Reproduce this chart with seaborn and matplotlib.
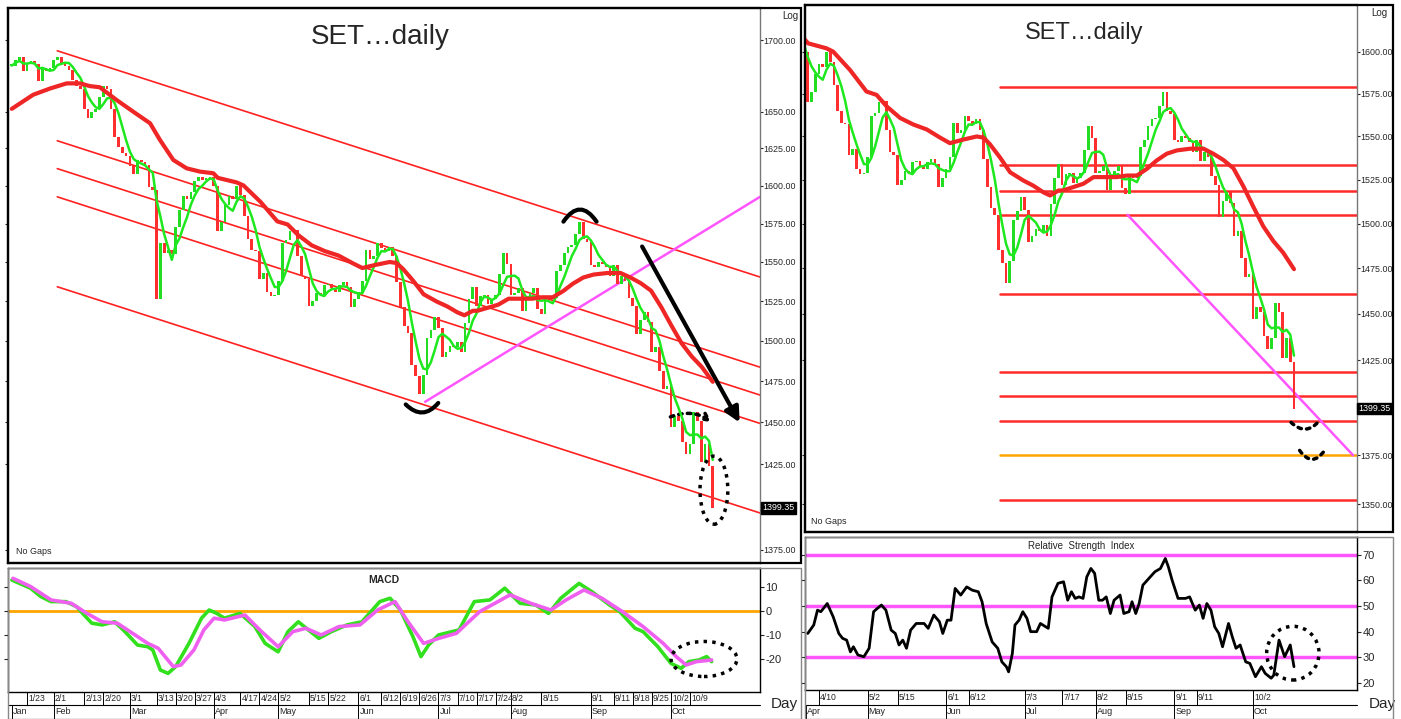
import numpy as np
import pandas as pd
import seaborn as sns
import matplotlib.pyplot as plt
from matplotlib.patches import Ellipse, Rectangle
from matplotlib.ticker import NullLocator

#%% data: SET index daily closes (trading-day index 0 = 17 Jan 2023)
close_jan = [1682, 1686, 1688, 1678, 1683, 1685, 1683, 1671, 1680, 1678, 1680]
close_feb = [1686, 1688, 1684, 1682, 1679, 1672, 1668, 1666, 1652, 1646,
             1650, 1652, 1660, 1668, 1666, 1652, 1633, 1626, 1622, 1620]
close_mar = [1613, 1608, 1617, 1616, 1614, 1599, 1597, 1526, 1562, 1556, 1558,
             1555, 1573, 1584, 1593, 1591, 1596, 1603, 1606, 1604, 1605, 1606]
close_apr = [1600, 1570, 1576, 1587, 1593, 1591, 1600, 1594, 1580, 1565, 1558,
             1557, 1539, 1543, 1531, 1528, 1529]
close_may = [1538, 1562, 1564, 1570, 1571, 1554, 1541, 1539, 1522, 1525, 1530,
             1529, 1535, 1536, 1533, 1531, 1535, 1537, 1534, 1521, 1526]
close_jun = [1531, 1538, 1558, 1552, 1554, 1562, 1559, 1557, 1560, 1554, 1537,
             1521, 1509, 1505, 1485, 1478, 1467, 1479, 1502, 1507, 1515]
close_jul = [1508, 1490, 1493, 1497, 1496, 1499, 1493, 1511, 1526, 1534, 1522,
             1528, 1529, 1523, 1526, 1529, 1542, 1556, 1549]
close_aug = [1529, 1530, 1533, 1519, 1526, 1530, 1533, 1520, 1517, 1528, 1526,
             1527, 1544, 1548, 1556, 1560, 1561, 1568, 1576, 1565, 1563]
close_sep = [1548, 1547, 1550, 1549, 1547, 1541, 1548, 1536, 1541, 1538, 1527,
             1522, 1504, 1513, 1518, 1512, 1493, 1496, 1481, 1470, 1472]
close_oct = [1447, 1454, 1451, 1438, 1431, 1437, 1456, 1451, 1426, 1437, 1424, 1399.35]
last_close = 1399.35

# red moving average
ma_x = [0, 5.6, 10, 14.4, 17.9, 20.5, 23.1, 27.5, 31.9, 36.3, 38.9, 42.4, 45.9, 49.4, 52.9,
        54.1, 59, 60.8, 65.3, 69.7, 72.4, 75.1, 78.7, 82.2, 85.8, 89.4, 92, 95.6, 99.2, 101,
        102.7, 105.4, 108.1, 111.6, 114.3, 117, 118.8, 121, 122.3, 127.7, 130.4, 133.1, 136.6,
        139.3, 142, 144.7, 147.3, 150, 152.7, 156.3, 159.8, 162.4, 165.1, 167.8, 170.5, 173.1,
        175.8, 178.5, 181.1, 184]
ma_v = [1652, 1661.7, 1666, 1669.6, 1669.6, 1667.7, 1666.9, 1658.1, 1650, 1642.1, 1630.7,
        1617.2, 1611.6, 1609.4, 1608.3, 1605.2, 1602.2, 1600.2, 1589.2, 1576.4, 1574.4, 1567.6,
        1560.8, 1557, 1554.1, 1549.3, 1546.1, 1548.2, 1550, 1549.3, 1545.5, 1537.8, 1529.3,
        1524.6, 1521.6, 1517.8, 1516, 1518.8, 1518.9, 1522.7, 1526.5, 1526.5, 1526.5, 1527.4,
        1527.4, 1531.3, 1536.1, 1540, 1541.9, 1542.9, 1542.9, 1540, 1536.4, 1531.6, 1521.1,
        1509.7, 1498.5, 1490.2, 1483.8, 1474.6]

# MACD / signal
macd_x = [0, 4.9, 7.6, 10.3, 14.2, 17, 19, 21, 23.7, 27, 29.7, 33, 35.7, 37, 39, 41, 43, 46.5,
          49.8, 51.8, 53.8, 55.8, 59.9, 63.8, 66.5, 69.9, 72.5, 75.2, 80.6, 83.9, 88, 91.9, 96.6,
          99.3, 102, 105.3, 107.4, 109.4, 112, 117.4, 121.4, 125.5, 129.4, 133.4, 137.5, 140.9,
          144.1, 148.9, 152.3, 156.9, 159.6, 163.6, 165.7, 169.6, 173, 175.7, 177.7, 180.4,
          182.4, 183.7]
macd_v = [12.9, 9.5, 6, 3.9, 3.9, 1.8, -1.7, -5.1, -5.8, -4.5, -8.6, -14.2, -14.9, -16.25,
          -24.6, -26, -23.2, -13.5, -3, 0.4, -1, -3, -1, -6.5, -13.5, -17, -8.6, -4.5, -11.4,
          -8.6, -5.8, -4.5, 3.9, 5.3, 0.4, -10.7, -19, -14.2, -10, -7.9, 3.9, 4.6, 9.5, 3.2,
          2.5, -1, 5.3, 11.5, 8, 2.5, -0.3, -7.2, -8.6, -14.9, -21.8, -23.9, -21.1, -20.4,
          -19, -21.1]
sig_x = [0.3, 4.9, 10.3, 15.6, 19.7, 23.7, 27.7, 31.7, 35.7, 38.4, 42.4, 44.4, 47.8, 50.4,
         53.1, 55.8, 61.2, 65.1, 69.9, 73.8, 77.2, 81.2, 85.9, 91.4, 96, 100.6, 104, 108.1,
         112.1, 116.7, 122.8, 126.8, 130.8, 136.2, 141.5, 145.5, 150.2, 154.9, 160.3, 165.7,
         171, 174.4, 177, 179.7, 183.7]
sig_v = [13.6, 10.2, 4.6, 3.2, -1, -4.5, -5.1, -9.3, -13.5, -15.5, -23.2, -22.5, -16.25, -7.9,
         -3, -3.75, -1.7, -7.9, -14.9, -8.6, -7.2, -10, -6.5, -5.8, 0.4, 3.9, -4.5, -13.5,
         -11.4, -9.3, -0.3, 3.2, 6.7, 3.2, 0.4, 4.6, 8.75, 5.3, -0.3, -6.5, -13.5, -19, -22.5,
         -21.1, -20.4]

# RSI
rsi_x = [54, 55.6, 56.6, 57.5, 59.2, 60.8, 62.3, 63.3, 64.4, 65.4, 66.2, 67.4, 69, 70.4, 71.6,
         72.6, 73.7, 74.9, 76.3, 77.4, 78.4, 79.4, 80.4, 81.5, 83, 85.1, 86.2, 87.7, 89.2, 90.1,
         91.3, 92.3, 93.4, 94.9, 96.5, 98, 99.6, 100.6, 101.7, 103.3, 104.8, 105.9, 107.1,
         107.7, 108.7, 109.4, 110.5, 111.5, 112.6, 113.6, 115.2, 116.2, 118.3, 119.3, 120.9,
         122.4, 123.5, 124.5, 125.5, 126.5, 127.6, 128.6, 129.7, 130.7, 131.8, 132.8, 133.8,
         134.9, 135.9, 137.5, 138.5, 139.9, 140.7, 141.7, 142.6, 143.6, 145.2, 146.8, 148.3,
         149.6, 150.4, 151.4, 153, 155, 156.1, 157.6, 158.7, 159.7, 160.7, 161.8, 162.8, 163.9,
         164.9, 166.5, 167.5, 168.5, 169.6, 171.1, 172.2, 173.7, 175.3, 176.3, 177.9, 178.6,
         180, 181.5, 183, 184]
rsi_v = [39.3, 42.6, 48.4, 47.8, 51, 45.8, 39.3, 37.4, 36.7, 32.1, 34.1, 30.9, 30.2, 33.5,
         47.8, 49.1, 50.4, 48.4, 40.6, 39.3, 34.8, 36.7, 33.5, 40.6, 43.2, 43.2, 41.3, 46.5,
         43.9, 39.3, 44.5, 44.5, 56.9, 54.3, 57.5, 56.2, 55.6, 51.7, 43.2, 36, 33.5, 28.2, 26.3,
         24.3, 31.5, 42.6, 44.5, 47.8, 45.2, 40, 40, 43.2, 41.3, 53.6, 58.9, 59.5, 52.3, 55.6,
         53, 53.6, 53, 61.4, 64.7, 62.8, 52.3, 52.3, 53.6, 47.1, 52.3, 54.3, 47.1, 47.8, 51.7,
         47.1, 51, 58.2, 60.8, 63.4, 64.7, 68.6, 65.4, 60.2, 53, 53, 53.6, 48.4, 50.4, 45.2, 51,
         48.4, 41.9, 39.3, 34.1, 43.2, 38, 33.5, 34.8, 28.2, 27.6, 22.4, 26.3, 23.7, 21.8, 23,
         36.7, 30.2, 34.8, 26.3]
rsi_levels = [30, 50, 70]

# date strip labels (trading-day index)
left_day_pos = [4, 11, 19, 24, 31, 38, 43, 48, 53, 60, 65, 70, 78, 83, 91, 97, 102, 107, 112,
                117, 122, 127, 131, 139, 152, 158, 163, 168, 173, 178]
left_day_lab = ['1/23', '2/1', '2/13', '2/20', '3/1', '3/13', '3/20', '3/27', '4/3', '4/17',
                '4/24', '5/2', '5/15', '5/22', '6/1', '6/12', '6/19', '6/26', '7/3', '7/10',
                '7/17', '7/24', '8/2', '8/15', '9/1', '9/11', '9/18', '9/25', '10/2', '10/9']
right_day_pos = [57, 70, 78, 91, 97, 112, 122, 131, 139, 152, 158, 173]
right_day_lab = ['4/10', '5/2', '5/15', '6/1', '6/12', '7/3', '7/17', '8/2', '8/15', '9/1',
                 '9/11', '10/2']
month_pos = [0, 11, 31, 53, 70, 91, 112, 131, 152, 173]
month_lab = ['Jan', 'Feb', 'Mar', 'Apr', 'May', 'Jun', 'Jul', 'Aug', 'Sep', 'Oct']

# price scale labels
left_levels = [1375, 1425, 1450, 1475, 1500, 1525, 1550, 1575, 1600, 1625, 1650, 1700]
right_levels = [1350, 1375, 1425, 1450, 1475, 1500, 1525, 1550, 1575, 1600]

# drawn trend lines (trading-day index, price)
chan_x = [11.94, 197.2]
chan_start = [1692.4, 1630.2, 1611.4, 1592.6, 1534.1]
chan_end = [1539.7, 1483.0, 1465.9, 1448.7, 1395.7]
left_pink_x = [108.5, 196.4]
left_pink_y = [1462.4, 1592.6]
right_pink_x = [139.5, 199.8]
right_pink_y = [1505, 1375]
hline_start = 105.4
red_levels = [1579.2, 1533.6, 1518.5, 1505, 1460.9, 1418.7, 1406, 1392.8, 1352]
orange_level = 1375

#%% derived series
close = np.array(close_jan + close_feb + close_mar + close_apr + close_may + close_jun
                 + close_jul + close_aug + close_sep + close_oct, dtype=float)
x = np.arange(len(close))
openp = np.r_[close[0], close[:-1]]
up = close >= openp
body_lo = np.minimum(openp, close)
body_h = np.maximum(np.abs(close - openp), 0.8)
ma5 = pd.Series(close).rolling(5, min_periods=1).mean().values

#%% style
sns.set_theme(style='white')
plt.rcParams['font.family'] = ['Liberation Sans', 'DejaVu Sans']
plt.rcParams['axes.edgecolor'] = 'black'
C_UP, C_DN = '#22dd22', '#ff2f2f'
C_MA5, C_MA = '#1ee81e', '#ee2626'
C_PINK = '#ff55ff'
DOTS = (0, (1, 1.5))

W, H = 1401, 719
fig = plt.figure(figsize=(W / 100, H / 100), dpi=100)


def px_axes(x0, y0, x1, y1):
    return fig.add_axes([x0 / W, 1 - y1 / H, (x1 - x0) / W, (y1 - y0) / H])


def px_frame(x0, y0, x1, y1, lw=1.6, color='black'):
    fig.add_artist(Rectangle((x0 / W, 1 - y1 / H), (x1 - x0) / W, (y1 - y0) / H,
                             transform=fig.transFigure, fill=False, lw=lw, ec=color))


ax_lp = px_axes(8, 8, 760, 563)
ax_lm = px_axes(8, 568, 760, 692)
ax_rp = px_axes(805, 5, 1357, 532)
ax_rr = px_axes(805, 537, 1357, 690)
XL = (-1.0, 196.4)
XR = (53.26, 200.85)

# outer frames around the price panels (label columns included)
px_frame(8, 8, 801, 563)
px_frame(805, 5, 1393, 532)
px_frame(8, 568, 801, 719, lw=1.0, color='#888888')
px_frame(805, 537, 1393, 719, lw=1.0, color='#888888')


def price_panel(ax, xlim, ylim, levels):
    ax.set_yscale('log')
    ax.bar(x[up], body_h[up], bottom=body_lo[up], width=0.7, color=C_UP, linewidth=0, zorder=3)
    ax.bar(x[~up], body_h[~up], bottom=body_lo[~up], width=0.7, color=C_DN, linewidth=0, zorder=3)
    sns.lineplot(x=x, y=ma5, ax=ax, color=C_MA5, linewidth=1.8, zorder=4)
    sns.lineplot(x=ma_x, y=ma_v, ax=ax, color=C_MA, linewidth=3, zorder=4, sort=False)
    ax.set_xlim(xlim)
    ax.set_ylim(ylim)
    ax.set_yticks(levels, labels=[f'{v:.2f}' for v in levels], fontsize=6.4)
    ax.yaxis.set_minor_locator(NullLocator())
    ax.yaxis.tick_right()
    ax.tick_params(axis='y', which='major', left=True, right=True, length=2, pad=0.5, width=0.8)
    ax.set_xticks([])
    ax.set_xlabel('')
    ax.set_ylabel('')
    for s in ax.spines.values():
        s.set_linewidth(1.6)
    ax.spines['right'].set_linewidth(1.0)
    ax.spines['right'].set_color('#777777')
    ax.text(1.003, last_close, '1399.35', transform=ax.get_yaxis_transform(), ha='left',
            va='center', color='white', fontsize=6.4,
            bbox=dict(facecolor='black', edgecolor='black', pad=1.0), zorder=6)
    ax.text(1.04, 0.985, 'Log', transform=ax.transAxes, ha='center', va='center', fontsize=7)
    ax.text(0.01, 0.012, 'No Gaps', transform=ax.transAxes, ha='left', va='bottom',
            fontsize=6.5)


def date_strip(ax, day_pos, day_lab, row1_px, row2_px, day_x):
    h = ax.get_position().height * H
    r1, r2 = row1_px / h, row2_px / h
    tr = ax.get_xaxis_transform()
    x0 = ax.get_xlim()[0]
    ax.plot([0, 1], [-r1, -r1], transform=ax.transAxes, color='black', lw=0.8, clip_on=False)
    for p, lab in zip(day_pos, day_lab):
        ax.plot([p, p], [0, -r1], transform=tr, color='black', lw=0.7, clip_on=False)
        ax.text(p + 0.3, -r1 / 2, lab, transform=tr, ha='left', va='center', fontsize=6.2)
    for p, lab in zip(month_pos, month_lab):
        if p < x0 - 1.5:
            continue
        p = max(p, x0 + 0.3)
        ax.plot([p, p], [-r1, -r2], transform=tr, color='black', lw=0.7, clip_on=False)
        ax.text(p + 0.3, -(r1 + r2) / 2, lab, transform=tr, ha='left', va='center',
                fontsize=6.5)
    ax.text(day_x, -r1 * 0.95, 'Day', transform=ax.transAxes, ha='left', va='center',
            fontsize=11)


def lower_style(ax, xlim, ylim, ticks):
    ax.set_xlim(xlim)
    ax.set_ylim(ylim)
    ax.set_yticks(ticks, labels=[str(t) for t in ticks], fontsize=8)
    ax.yaxis.tick_right()
    ax.tick_params(axis='y', left=True, right=True, length=3, pad=1, width=0.8)
    ax.set_xticks([])
    ax.set_xlabel('')
    ax.set_ylabel('')
    for s in ax.spines.values():
        s.set_linewidth(1.0)


#%% left price panel
price_panel(ax_lp, XL, (1367.5, 1722.8), left_levels)
for y0, y1 in zip(chan_start, chan_end):
    ax_lp.plot(chan_x, [y0, y1], color='#ff2020', lw=1.2, zorder=2)
ax_lp.plot(left_pink_x, left_pink_y, color=C_PINK, lw=1.8, zorder=2)
ax_lp.text(0.495, 0.948, 'SET\u2026daily', transform=ax_lp.transAxes, ha='center',
           va='center', fontsize=20)
# annotations
ax_lp.annotate('', xy=(112.4, 1463), xytext=(102.9, 1462),
               arrowprops=dict(arrowstyle='-', lw=3, color='black',
                               connectionstyle='arc3,rad=0.6'))
ax_lp.annotate('', xy=(153.9, 1574.7), xytext=(144.4, 1574.7),
               arrowprops=dict(arrowstyle='-', lw=3, color='black',
                               connectionstyle='arc3,rad=-0.8'))
ax_lp.annotate('', xy=(191.4, 1448.4), xytext=(165.1, 1561.6),
               arrowprops=dict(arrowstyle='-|>', lw=3, color='black', mutation_scale=22))
ax_lp.annotate('', xy=(184.3, 1449), xytext=(172.2, 1452.6),
               arrowprops=dict(arrowstyle='->', lw=2.5, color='black', linestyle=DOTS,
                               connectionstyle='arc3,rad=-0.3'))
ax_lp.add_patch(Ellipse((184.3, 1409.7), 7.3, 40, fill=False, ec='black', lw=2.5,
                        ls=DOTS, zorder=5))

#%% left MACD panel
lower_style(ax_lm, XL, (-33.75, 17.9), [10, 0, -10, -20])
ax_lm.axhline(0, color='#ffa500', lw=2, zorder=2)
sns.lineplot(x=macd_x, y=macd_v, ax=ax_lm, color='#33e01e', linewidth=2.6, sort=False, zorder=3)
sns.lineplot(x=sig_x, y=sig_v, ax=ax_lm, color='#f060f0', linewidth=2.6, sort=False, zorder=4)
ax_lm.set_xlabel('')
ax_lm.text(0.5, 0.9, 'MACD', transform=ax_lm.transAxes, ha='center', va='center',
           fontsize=7.5, fontweight='bold')
ax_lm.add_patch(Ellipse((181.7, -20), 17.3, 14.6, fill=False, ec='black', lw=2.5,
                        ls=DOTS, zorder=5))
date_strip(ax_lm, left_day_pos, left_day_lab, 13, 27, 1.014)

#%% right price panel
price_panel(ax_rp, XR, (1335.9, 1628.5), right_levels)
for lv in red_levels:
    ax_rp.plot([hline_start, XR[1]], [lv, lv], color='#ff2a2a', lw=1.8, zorder=2)
ax_rp.plot([hline_start, XR[1]], [orange_level, orange_level], color='#ffa500', lw=1.8, zorder=2)
ax_rp.plot(right_pink_x, right_pink_y, color=C_PINK, lw=1.8, zorder=2)
ax_rp.text(0.505, 0.947, 'SET\u2026daily', transform=ax_rp.transAxes, ha='center',
           va='center', fontsize=17)
ax_rp.annotate('', xy=(191.2, 1394), xytext=(182.7, 1393.1),
               arrowprops=dict(arrowstyle='-', lw=2.5, color='black', linestyle=DOTS,
                               connectionstyle='arc3,rad=0.6'))
ax_rp.annotate('', xy=(192.6, 1378.7), xytext=(185.1, 1378.7),
               arrowprops=dict(arrowstyle='-', lw=2.5, color='black', linestyle=DOTS,
                               connectionstyle='arc3,rad=0.8'))

#%% right RSI panel
lower_style(ax_rr, XR, (17.2, 77), [20, 30, 40, 50, 60, 70])
for lv in rsi_levels:
    ax_rr.axhline(lv, color=C_PINK, lw=2.5, zorder=2)
sns.lineplot(x=rsi_x, y=rsi_v, ax=ax_rr, color='black', linewidth=2, sort=False, zorder=3)
ax_rr.set_xlabel('')
ax_rr.text(0.5, 0.94, 'Relative  Strength  Index', transform=ax_rr.transAxes, ha='center',
           va='center', fontsize=7)
ax_rr.add_patch(Ellipse((183.7, 31.6), 14, 21, fill=False, ec='black', lw=2.5,
                        ls=DOTS, zorder=5))
date_strip(ax_rr, right_day_pos, right_day_lab, 15, 29, 1.022)

plt.savefig('out.png', dpi=100)
